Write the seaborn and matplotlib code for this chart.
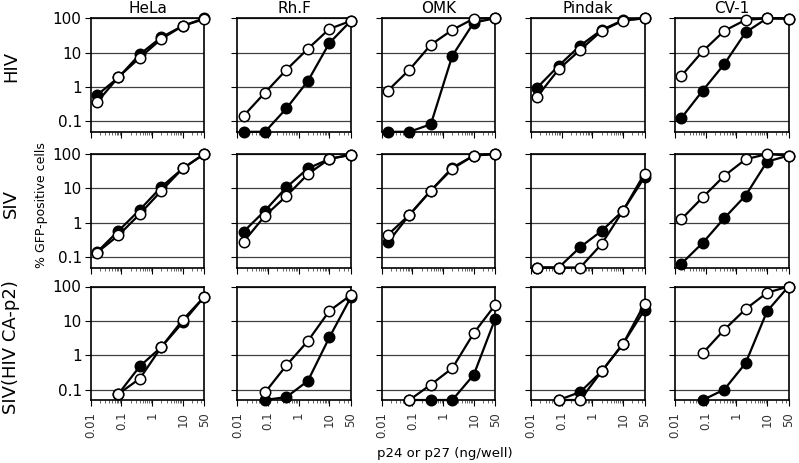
import matplotlib
matplotlib.use("Agg")
import matplotlib.pyplot as plt
import matplotlib.ticker as mticker
import numpy as np
import pandas as pd
import seaborn as sns

# panels: columns = target cells, rows = virus
cells = ["HeLa", "Rh.F", "OMK", "Pindak", "CV-1"]
viruses = ["HIV", "SIV", "SIV(HIV CA-p2)"]
dose = [0.016, 0.08, 0.4, 2, 10, 50]   # ng/well, 5-fold dilutions
x_ticks = [0.01, 0.1, 1, 10, 50]
x_labels = ["0.01", "0.1", "1", "10", "50"]
y_ticks = [0.1, 1, 10, 100]
y_labels = ["0.1", "1", "10", "100"]

nan = np.nan
# % GFP positive cells, one list per cell line (HeLa, Rh.F, OMK, Pindak, CV-1)
hiv_filled = [[0.58, 1.9, 9, 28, 60, 100],
              [0.05, 0.05, 0.24, 1.5, 19, 84],
              [0.05, 0.05, 0.083, 8.1, 75, 100],
              [0.97, 4.2, 16, 46, 88, 100],
              [0.125, 0.79, 4.6, 39, 100, 98]]
hiv_open = [[0.36, 1.95, 7.2, 25, 60, 95],
            [0.145, 0.69, 3.2, 13, 49, 84],
            [0.79, 3.2, 17, 46, 98, 100],
            [0.53, 3.3, 12, 43, 86, 100],
            [2.1, 11, 43, 90, 100, 98]]
siv_filled = [[0.14, 0.58, 2.4, 11, 38, 100],
              [0.55, 2.25, 10.8, 38, 72, 95],
              [0.27, 1.7, 8.6, 40, 90, 100],
              [0.05, 0.05, 0.195, 0.58, 2.25, 21],
              [0.064, 0.26, 1.35, 6.2, 60, 90]]
siv_open = [[0.135, 0.43, 1.8, 8.5, 38, 100],
            [0.28, 1.6, 6, 26, 72, 95],
            [0.45, 1.7, 8.6, 37, 90, 100],
            [0.05, 0.05, 0.05, 0.24, 2.25, 27],
            [1.26, 5.5, 23, 70, 100, 90]]
chim_filled = [[nan, 0.075, 0.48, 1.73, 9, 50],
               [nan, 0.05, 0.061, 0.18, 3.3, 48],
               [nan, 0.05, 0.05, 0.05, 0.27, 11.5],
               [nan, 0.05, 0.085, 0.34, 2.15, 21],
               [nan, 0.05, 0.1, 0.59, 19, 100]]
chim_open = [[nan, 0.075, 0.21, 1.73, 10.7, 50],
             [nan, 0.083, 0.51, 2.6, 19.5, 56],
             [nan, 0.05, 0.14, 0.42, 4.4, 29],
             [nan, 0.05, 0.05, 0.34, 2.15, 31],
             [nan, 1.15, 5.5, 22, 66, 100]]

series = {("HIV", "filled"): hiv_filled, ("HIV", "open"): hiv_open,
          ("SIV", "filled"): siv_filled, ("SIV", "open"): siv_open,
          ("SIV(HIV CA-p2)", "filled"): chim_filled, ("SIV(HIV CA-p2)", "open"): chim_open}

rows = []
for (virus, kind), vals in series.items():
    for cell, ys in zip(cells, vals):
        for d, y in zip(dose, ys):
            rows.append((virus, kind, cell, d, y))
df = pd.DataFrame(rows, columns=["virus", "kind", "cell", "dose", "pct"]).dropna()

sns.set_theme(style="ticks")
plt.rcParams["font.family"] = ["DejaVu Sans"]
plt.rcParams["text.color"] = "black"
plt.rcParams["xtick.color"] = "black"
plt.rcParams["ytick.color"] = "black"

fig = plt.figure(figsize=(7.99, 4.63), dpi=100)
FW, FH = 799, 463
lefts = [90.7, 237.3, 381.7, 531, 675]
tops = [18.3, 154, 286.5]
PW = PH = 113.5

for r, virus in enumerate(viruses):
    for c, cell in enumerate(cells):
        ax = fig.add_axes([lefts[c] / FW, 1 - (tops[r] + PH) / FH, PW / FW, PH / FH])
        ax.set_xscale("log")
        ax.set_yscale("log")
        sub = df[(df.virus == virus) & (df.cell == cell)]
        for kind, fc, z in [("filled", "black", 3), ("open", "white", 4)]:
            s = sub[sub.kind == kind]
            sns.lineplot(data=s, x="dose", y="pct", ax=ax, color="black", lw=1.6,
                         marker="o", ms=7.5, mfc=fc, mec="black", mew=1.1,
                         estimator=None, clip_on=False, zorder=z)
        ax.set_xlim(0.01, 50)
        ax.set_ylim(0.05, 100)
        ax.yaxis.grid(True, which="major", color="0.25", lw=0.9)
        ax.xaxis.grid(False)
        ax.set_axisbelow(True)
        ax.set_xlabel("")
        ax.set_ylabel("")
        ax.set_xticks(x_ticks)
        ax.set_yticks(y_ticks)
        ax.xaxis.set_minor_formatter(mticker.NullFormatter())
        ax.yaxis.set_minor_formatter(mticker.NullFormatter())
        if r == 2:
            ax.set_xticklabels(x_labels, rotation=90, fontsize=8.5, color="0.2")
        else:
            ax.set_xticklabels([])
        if c == 0:
            ax.set_yticklabels(y_labels, fontsize=11)
        else:
            ax.set_yticklabels([])
        ax.tick_params(which="major", direction="out", length=4.5, width=0.8, pad=2)
        ax.tick_params(axis="x", which="major", pad=4)
        ax.tick_params(which="minor", direction="out", length=2.5, width=0.6, color="0.3")
        for sp in ax.spines.values():
            sp.set_linewidth(1.2)
            sp.set_color("black")
        if r == 0:
            ax.set_title(cell, fontsize=11, pad=4, color="black")

row_centers = [66, 203, 347]
for virus, yc in zip(viruses, row_centers):
    fig.text(11 / FW, 1 - yc / FH, virus, rotation=90, ha="center", va="center", fontsize=13)

fig.text(42 / FW, 1 - 205 / FH, "% GFP-positive cells", rotation=90,
         ha="center", va="center", fontsize=9)
fig.text(445 / FW, 1 - 453 / FH, "p24 or p27 (ng/well)", ha="center", va="center", fontsize=9.5)

fig.savefig("out.png", dpi=100)
